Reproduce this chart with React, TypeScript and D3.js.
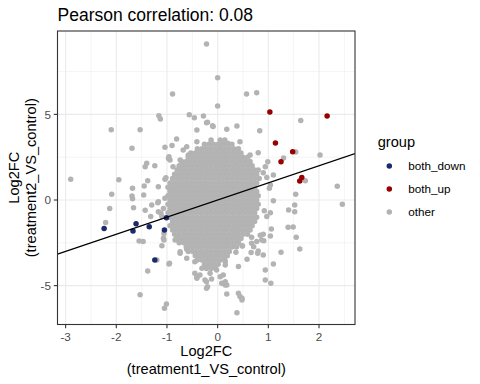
import React from 'react';
import * as d3 from 'd3';

const title = 'Pearson correlation: 0.08';
const xTicks = [-3, -2, -1, 0, 1, 2];
const yTicks = [-5, 0, 5];
const xMinor = [-2.5, -1.5, -0.5, 0.5, 1.5, 2.5];
const yMinor = [-2.5, 2.5, 7.5];
const groups = ['both_down', 'both_up', 'other'];
const groupColors = ['#1B2A6B', '#990000', '#B3B3B3'];

// log2FC (treatment1, treatment2)
const bothDown: [number, number][] = [
  [-2.24, -1.67], [-1.67, -1.81], [-1.61, -1.38], [-1.35, -1.56],
  [-1.05, -1.75], [-1.01, -1.03], [-1.24, -3.5],
];

const bothUp: [number, number][] = [
  [1.03, 5.14], [2.16, 4.9], [1.14, 3.33], [1.48, 2.82],
  [1.25, 2.24], [1.66, 1.32], [1.62, 1.11],
];

// scattered "other" genes around the dense centre
const otherScatter: [number, number][] = [
  [-0.22, 9.11], [0.0, 7.14], [-0.89, 6.19], [0.57, 6.19], [0.77, 6.26], [0.0, 5.49],
  [-1.16, 4.92], [-1.13, 4.73], [-0.56, 4.98], [-0.46, 4.8], [-0.28, 4.9], [1.64, 4.65],
  [-2.1, 4.1], [-1.53, 4.1], [-0.41, 4.09], [-0.22, 4.51], [-0.09, 4.3], [-0.2, 4.54],
  [-0.1, 4.34], [0.18, 4.13], [0.38, 4.32], [0.83, 4.05],
  [-0.81, 3.56], [-1.04, 3.08], [-0.9, 3.19], [-0.61, 3.11], [-1.69, 3.02],
  [0.44, 3.4], [0.2, 3.31], [-0.41, 3.4], [0.05, 3.21],
  [1.54, 2.8], [1.3, 2.45], [2.02, 2.63], [0.8, 2.76], [0.64, 2.63], [0.99, 2.24], [0.94, 1.94],
  [-1.4, 2.14], [-1.43, 1.94], [-1.24, 2.0], [-0.96, 2.53], [-0.94, 2.34], [-0.88, 1.94],
  [-0.97, 2.43], [-0.74, 2.34], [-0.68, 2.92], [-0.58, 2.63], [-0.76, 1.85],
  [-1.02, 1.3], [-1.38, 1.13], [-1.45, 0.82], [-1.17, 0.78], [-1.04, 1.21],
  [-2.9, 1.21], [-1.95, 1.19],
  [2.36, 0.8], [1.73, 1.13], [1.04, 0.88], [1.1, 1.46], [0.9, 1.59], [0.97, 1.32],
  [2.46, -0.25], [1.54, 0.33], [1.52, -0.29], [1.52, -0.68], [1.4, -0.58], [1.39, -1.59],
  [1.49, -1.58], [1.55, -2.18], [1.62, -2.86], [1.25, -3.05], [1.1, -3.74], [0.94, -4.09],
  [0.94, -4.67], [1.05, -4.86],
  [0.38, -6.58], [0.18, -5.49], [0.44, -5.64], [0.48, -5.74], [0.41, -3.89], [-0.22, -5.15],
  [0.08, -4.86], [0.15, -4.96], [-0.41, -4.48], [-0.25, -4.67],
  [1.02, 0.68], [1.1, -0.04], [1.04, -0.74], [0.92, -0.62], [0.97, -0.97], [1.06, -1.69],
  [1.04, -2.1], [0.91, -2.38], [0.8, -2.98], [0.9, -3.21], [0.67, -2.18], [0.58, -3.46],
  [0.36, -3.05], [0.49, -2.69], [0.66, -3.07], [0.84, -2.06], [0.77, -2.43], [0.9, -2.0],
  [0.87, -2.34], [0.48, -2.67], [0.79, -3.11], [0.67, -2.53], [0.71, -2.73],
  [0.15, -3.6], [0.11, -4.38], [0.15, -4.77], [0.18, -4.96], [0.41, -5.45],
  [-1.05, -6.32], [-1.01, -6.07], [0.48, -5.84],
  [-2.09, 0.33], [-2.13, -0.49], [-2.21, -1.32], [-1.69, 0.23], [-1.68, 0.08], [-1.66, -0.45],
  [-1.46, 0.29], [-1.68, 0.68], [-1.18, -0.16], [-1.43, -0.6], [-1.32, -0.97], [-1.17, -0.68],
  [-1.12, -0.78], [-1.3, -0.29], [-1.17, -0.1], [-1.1, -0.97], [-1.07, -0.49], [-1.04, 0.1],
  [-1.55, -2.39], [-1.47, -2.43], [-1.1, -2.67], [-1.2, -3.5], [-1.38, -4.14], [-0.96, -3.74],
  [-0.95, -3.7], [-1.53, -5.53], [-1.06, -1.95], [-1.06, -2.34], [-1.07, -2.24], [-0.82, -2.28],
  [-0.84, -2.34], [-0.74, -3.02], [-0.61, -2.88], [-0.74, -3.11], [-0.61, -3.4], [-0.45, -4.28],
  [-0.41, -4.57],
  [-0.45, -3.6], [-0.31, -3.99], [-0.35, -4.38], [-0.22, -4.77], [-0.15, -4.28], [-0.02, -4.09],
  [0.15, -3.79], [-0.2, -3.95], [-0.12, -4.61], [0.05, -4.48], [-0.2, -5.06],
];

// dense core of "other" genes, read row by row (treatment2 value, treatment1 values)
const coreY = [
  3.5, 3.25, 3.0, 2.75, 2.5, 2.25, 2.0, 1.75, 1.5, 1.25, 1.0, 0.75, 0.5, 0.25, 0,
  -0.25, -0.5, -0.75, -1.0, -1.25, -1.5, -1.75, -2.0, -2.25, -2.5, -2.75, -3.0, -3.25,
  -3.5, -3.75, -4.0,
];
const coreX = [
  '-0.13 0.05 0.14',
  '-0.26 -0.17 -0.08 0.01 0.1 0.19 0.28',
  '-0.4 -0.31 -0.22 -0.13 -0.04 0.05 0.14 0.23 0.32 0.41',
  '-0.53 -0.44 -0.35 -0.26 -0.17 -0.08 0.01 0.1 0.19 0.28 0.37 0.46',
  '-0.58 -0.49 -0.4 -0.31 -0.22 -0.13 -0.04 0.05 0.14 0.23 0.32 0.41 0.5 0.59',
  '-0.71 -0.62 -0.53 -0.44 -0.35 -0.26 -0.17 -0.08 0.01 0.1 0.19 0.28 0.37 0.46 0.55 0.64',
  '-0.76 -0.67 -0.58 -0.49 -0.4 -0.31 -0.22 -0.13 -0.04 0.05 0.14 0.23 0.32 0.41 0.5 0.59 0.68',
  '-0.8 -0.71 -0.62 -0.53 -0.44 -0.35 -0.26 -0.17 -0.08 0.01 0.1 0.19 0.28 0.37 0.46 0.55 0.64 0.73 0.8',
  '-0.85 -0.76 -0.67 -0.58 -0.49 -0.4 -0.31 -0.22 -0.13 -0.04 0.05 0.14 0.23 0.32 0.41 0.5 0.59 0.68 0.77',
  '-0.89 -0.8 -0.71 -0.62 -0.53 -0.44 -0.35 -0.26 -0.17 -0.08 0.01 0.1 0.19 0.28 0.37 0.46 0.55 0.64 0.73 0.82',
  '-0.94 -0.85 -0.76 -0.67 -0.58 -0.49 -0.4 -0.31 -0.22 -0.13 -0.04 0.05 0.14 0.23 0.32 0.41 0.5 0.59 0.68 0.77',
  '-0.98 -0.89 -0.8 -0.71 -0.62 -0.53 -0.44 -0.35 -0.26 -0.17 -0.08 0.01 0.1 0.19 0.28 0.37 0.46 0.55 0.64 0.73',
  '-0.94 -0.85 -0.76 -0.67 -0.58 -0.49 -0.4 -0.31 -0.22 -0.13 -0.04 0.05 0.14 0.23 0.32 0.41 0.5 0.59 0.68 0.77',
  '-0.98 -0.89 -0.8 -0.71 -0.62 -0.53 -0.44 -0.35 -0.26 -0.17 -0.08 0.01 0.1 0.19 0.28 0.37 0.46 0.55 0.64 0.73 0.8',
  '-0.94 -0.85 -0.76 -0.67 -0.58 -0.49 -0.4 -0.31 -0.22 -0.13 -0.04 0.05 0.14 0.23 0.32 0.41 0.5 0.59 0.68 0.77',
  '-0.98 -0.89 -0.8 -0.71 -0.62 -0.53 -0.44 -0.35 -0.26 -0.17 -0.08 0.01 0.1 0.19 0.28 0.37 0.46 0.55 0.64 0.73 0.8',
  '-0.94 -0.85 -0.76 -0.67 -0.58 -0.49 -0.4 -0.31 -0.22 -0.13 -0.04 0.05 0.14 0.23 0.32 0.41 0.5 0.59 0.68 0.77',
  '-0.98 -0.89 -0.8 -0.71 -0.62 -0.53 -0.44 -0.35 -0.26 -0.17 -0.08 0.01 0.1 0.19 0.28 0.37 0.46 0.55 0.64 0.73',
  '-0.94 -0.85 -0.76 -0.67 -0.58 -0.49 -0.4 -0.31 -0.22 -0.13 -0.04 0.05 0.14 0.23 0.32 0.41 0.5 0.59 0.68 0.77',
  '-0.89 -0.8 -0.71 -0.62 -0.53 -0.44 -0.35 -0.26 -0.17 -0.08 0.01 0.1 0.19 0.28 0.37 0.46 0.55 0.64 0.73',
  '-0.94 -0.85 -0.76 -0.67 -0.58 -0.49 -0.4 -0.31 -0.22 -0.13 -0.04 0.05 0.14 0.23 0.32 0.41 0.5 0.59 0.68',
  '-0.89 -0.8 -0.71 -0.62 -0.53 -0.44 -0.35 -0.26 -0.17 -0.08 0.01 0.1 0.19 0.28 0.37 0.46 0.55 0.64',
  '-0.85 -0.76 -0.67 -0.58 -0.49 -0.4 -0.31 -0.22 -0.13 -0.04 0.05 0.14 0.23 0.32 0.41 0.5 0.59',
  '-0.8 -0.71 -0.62 -0.53 -0.44 -0.35 -0.26 -0.17 -0.08 0.01 0.1 0.19 0.28 0.37 0.46',
  '-0.76 -0.67 -0.58 -0.49 -0.4 -0.31 -0.22 -0.13 -0.04 0.05 0.14 0.23 0.32 0.41',
  '-0.62 -0.53 -0.44 -0.35 -0.26 -0.17 -0.08 0.01 0.1 0.19 0.28 0.37',
  '-0.58 -0.49 -0.4 -0.31 -0.22 -0.13 -0.04 0.05 0.14 0.23',
  '-0.44 -0.35 -0.26 -0.17 -0.08 0.01 0.1 0.19',
  '-0.4 -0.31 -0.22 -0.13 -0.04 0.05 0.14',
  '-0.26 -0.17 -0.08 0.01',
  '-0.22 -0.13 -0.04',
];

const W = 480;
const H = 384;
const panel = { left: 57.5, right: 355, top: 31, bottom: 324.5 };
const font = '"Liberation Sans", Arial, Helvetica, sans-serif';

const x = d3.scaleLinear().domain([-3.16, 2.71]).range([panel.left, panel.right]);
const y = d3.scaleLinear().domain([-7.27, 9.87]).range([panel.bottom, panel.top]);

const corePoints: [number, number][] = coreY.flatMap((yv, i) =>
  coreX[i].split(' ').map(v => [Number(v), yv] as [number, number])
);
const otherPoints = [...corePoints, ...otherScatter];

const diagLine = d3.line<number>().x(d => x(d)).y(d => y(d));

export default function App() {
  const r = 2.75;
  const legendY = [166, 189, 212];
  return (
    <svg width={W} height={H} style={{ position: 'absolute', left: 0, top: 0, background: '#fff' }} fontFamily={font}>
      <defs>
        <clipPath id="panel-clip">
          <rect x={panel.left} y={panel.top} width={panel.right - panel.left} height={panel.bottom - panel.top} />
        </clipPath>
      </defs>
      <rect width={W} height={H} fill="#fff" />

      {/* grid */}
      <g stroke="#EBEBEB" fill="none">
        {xMinor.map(v => (
          <line key={'xm' + v} x1={x(v)} x2={x(v)} y1={panel.top} y2={panel.bottom} strokeWidth={0.55} />
        ))}
        {yMinor.map(v => (
          <line key={'ym' + v} y1={y(v)} y2={y(v)} x1={panel.left} x2={panel.right} strokeWidth={0.55} />
        ))}
        {xTicks.map(v => (
          <line key={'xM' + v} x1={x(v)} x2={x(v)} y1={panel.top} y2={panel.bottom} strokeWidth={1.1} />
        ))}
        {yTicks.map(v => (
          <line key={'yM' + v} y1={y(v)} y2={y(v)} x1={panel.left} x2={panel.right} strokeWidth={1.1} />
        ))}
      </g>

      {/* points */}
      <g clipPath="url(#panel-clip)">
        {otherPoints.map((d, i) => (
          <circle key={'o' + i} cx={x(d[0])} cy={y(d[1])} r={r} fill={groupColors[2]} />
        ))}
        {bothDown.map((d, i) => (
          <circle key={'d' + i} cx={x(d[0])} cy={y(d[1])} r={r} fill={groupColors[0]} />
        ))}
        {bothUp.map((d, i) => (
          <circle key={'u' + i} cx={x(d[0])} cy={y(d[1])} r={r} fill={groupColors[1]} />
        ))}
        <path d={diagLine(x.domain()) ?? ''} stroke="#000" strokeWidth={1.2} fill="none" />
      </g>

      <rect x={panel.left} y={panel.top} width={panel.right - panel.left} height={panel.bottom - panel.top}
        fill="none" stroke="#333333" strokeWidth={1.1} />

      {/* x axis */}
      <g>
        {xTicks.map(v => (
          <g key={'xt' + v}>
            <line x1={x(v)} x2={x(v)} y1={panel.bottom} y2={panel.bottom + 3.7} stroke="#333333" strokeWidth={1.1} />
            <text x={x(v)} y={341} textAnchor="middle" fontSize={11.7} fill="#4D4D4D">{String(v)}</text>
          </g>
        ))}
      </g>
      {/* y axis */}
      <g>
        {yTicks.map(v => (
          <g key={'yt' + v}>
            <line x1={panel.left - 3.7} x2={panel.left} y1={y(v)} y2={y(v)} stroke="#333333" strokeWidth={1.1} />
            <text x={panel.left - 6.6} y={y(v) + 4.2} textAnchor="end" fontSize={11.7} fill="#4D4D4D">{String(v)}</text>
          </g>
        ))}
      </g>

      {/* titles */}
      <text x={panel.left} y={20.5} fontSize={17.5} fill="#000">{title}</text>
      <text x={(panel.left + panel.right) / 2} y={356} textAnchor="middle" fontSize={14.6} fill="#000">Log2FC</text>
      <text x={(panel.left + panel.right) / 2} y={374} textAnchor="middle" fontSize={14.6} fill="#000">(treatment1_VS_control)</text>
      <g transform={`translate(0, ${(panel.top + panel.bottom) / 2})`}>
        <text transform="translate(18.5,0) rotate(-90)" textAnchor="middle" fontSize={14.6} fill="#000">Log2FC</text>
        <text transform="translate(36,0) rotate(-90)" textAnchor="middle" fontSize={14.6} fill="#000">(treatment2_VS_control)</text>
      </g>

      {/* legend */}
      <text x={377.7} y={146.7} fontSize={14.6} fill="#000">group</text>
      {groups.map((g, i) => (
        <g key={g}>
          <circle cx={389.3} cy={legendY[i]} r={r} fill={groupColors[i]} />
          <text x={408.3} y={legendY[i] + 4.2} fontSize={11.7} fill="#000">{g}</text>
        </g>
      ))}
    </svg>
  );
}
